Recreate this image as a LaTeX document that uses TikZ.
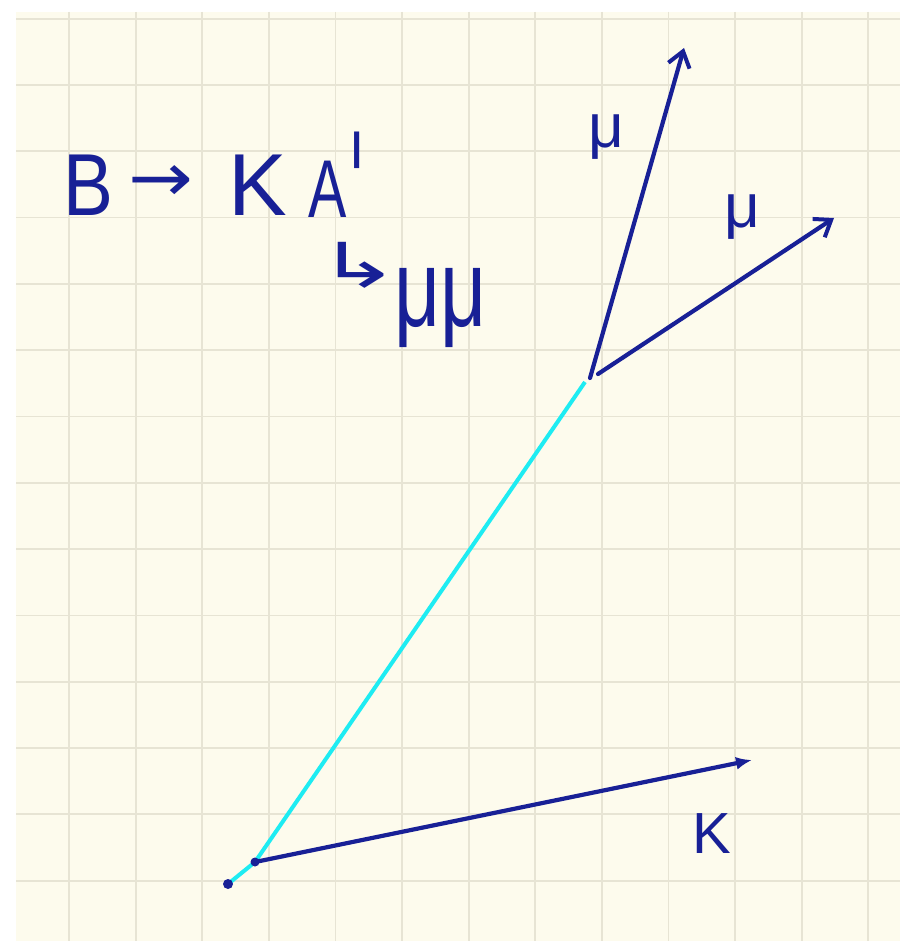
\documentclass[tikz,border=0pt]{standalone}
\usepackage{fontspec}
\usepackage{graphicx}
\setmainfont{Liberation Sans}
\newfontfamily\symfont{DejaVu Sans}
\usetikzlibrary{arrows.meta}
\definecolor{inkc}{RGB}{24,32,150}
\definecolor{paper}{RGB}{253,251,237}
\definecolor{gridc}{RGB}{231,228,212}
\definecolor{cyanc}{RGB}{30,236,242}
\begin{document}
\begin{tikzpicture}[x=1pt,y=-1pt,
  gridline/.style={draw=gridc, line width=1.8pt},
  inkline/.style={draw=inkc, line width=4.2pt, line cap=round},
  cyanline/.style={draw=cyanc, line width=4pt},
  hand/.style={text=inkc, inner sep=0pt, anchor=center},
  mutip/.style={-{Straight Barb[length=15pt,width=22pt,line width=4pt]}},
  ktip/.style={-{Latex[length=16pt,width=13pt]}}]
\useasboundingbox (0,0) rectangle (900,941);
\fill[white] (0,0) rectangle (900,941);
\fill[paper] (16,12) rectangle (900,941);
\begin{scope}
  \clip (16,12) rectangle (900,941);
  \foreach \i in {0,...,12} \draw[gridline] ({69+66.6*\i},12) -- ({69+66.6*\i},941);
  \foreach \i in {-1,...,12} \draw[gridline] (16,{85+66.3*\i}) -- (900,{85+66.3*\i});
\end{scope}

% title text
\node[hand,font=\fontsize{88}{88}\selectfont] (tB) at (88,185) {\scalebox{0.85}[1]{B}};
\node[hand,font=\symfont\fontsize{62}{62}\selectfont] (tArr) at (161,184) {\scalebox{1.25}[1.1]{→}};
\node[hand,font=\fontsize{88}{88}\selectfont] (tK) at (258,185) {K};
\node[hand,font=\fontsize{82}{82}\selectfont] (tA) at (328,189) {\scalebox{0.7}[1]{A}};
\node[hand,anchor=base,font=\symfont\fontsize{70}{70}\selectfont] (tP) at (357,163) {\raisebox{-72pt}[29pt][0pt]{\scalebox{1.1}[1.93]{ˈ}}};
\node[hand,font=\symfont\fontsize{62}{62}\selectfont] (tHook) at (359,265) {\scalebox{1.6}[1.0]{↳}};
\node[hand,font=\fontsize{100}{100}\selectfont] (tMuMu) at (441,308) {\scalebox{0.8}[1.1]{μμ}};

% vertices
\coordinate (pv) at (228,884);
\coordinate (sv) at (255,862);
\coordinate (dv) at (585,382);
\coordinate (m1s) at (590,378);
\coordinate (m1e) at (684,48);
\coordinate (m2s) at (598,374);
\coordinate (m2e) at (834,218);
\coordinate (ke) at (752,760);

% cyan flight line
\draw[cyanline] (pv) -- (sv) -- (dv);
\fill[inkc] (pv) circle (5);
\fill[inkc] (sv) circle (4.5);

% tracks
\draw[inkline,mutip] (m1s) -- (m1e);
\draw[inkline,mutip] (m2s) -- (m2e);
\draw[inkline,ktip] (sv) -- (ke);

% labels
\node[hand,font=\fontsize{62}{62}\selectfont] (lMu1) at (606,137) {μ};
\node[hand,font=\fontsize{62}{62}\selectfont] (lMu2) at (742,217) {μ};
\node[hand,font=\fontsize{58}{58}\selectfont] (lK) at (712,834) {K};
\end{tikzpicture}
\end{document}
